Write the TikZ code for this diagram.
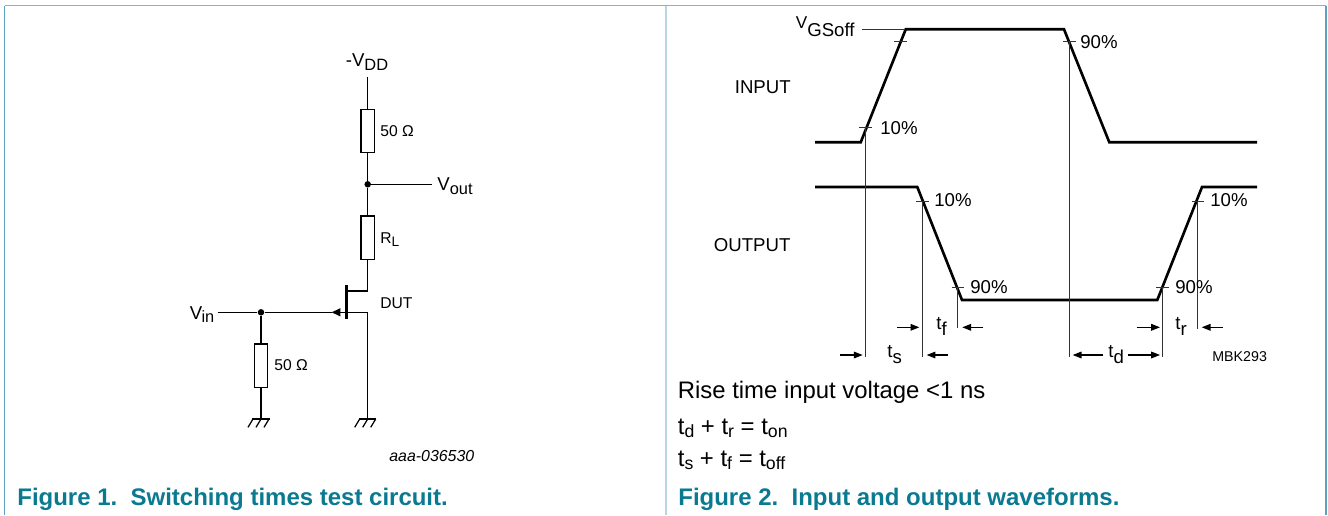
\documentclass[tikz,border=0pt]{standalone}
\usepackage{fontspec}
\setmainfont{Liberation Sans}
\usetikzlibrary{arrows.meta}
\definecolor{captionteal}{HTML}{0A7A90}
\definecolor{frameouter}{HTML}{5BA3BC}
\definecolor{frametop}{HTML}{7DB7CE}
\definecolor{framemid}{HTML}{B7D7E0}
\newcommand{\lowtxt}[1]{\raisebox{-1.9pt}{\scalebox{0.88}{#1}}}
\newcommand{\droptxt}[1]{\raisebox{-3.8pt}{#1}}
\newcommand{\subtxt}[1]{\raisebox{-1.8pt}{\scalebox{0.74}{#1}}}
\tikzset{
  wire/.style={black,line width=0.7pt},
  res/.style={draw=black,line width=0.7pt,fill=white,minimum width=0.272cm,minimum height=0.868cm},
  junct/.style={circle,fill=black,minimum size=0.13cm},
  gatebar/.style={fill=black,minimum width=0.05cm,minimum height=0.68cm},
  lbl/.style={anchor=base west,font=\fontsize{10.6}{12}\selectfont},
  smalllbl/.style={anchor=base west,font=\fontsize{8.9}{11}\selectfont},
  notelbl/.style={anchor=base west,font=\fontsize{13.6}{16}\selectfont},
  caption/.style={anchor=base west,text=captionteal,font=\fontsize{13.65}{16}\selectfont\bfseries},
  wave/.style={black,line width=1.5pt,line join=miter},
  thinln/.style={black!80,line width=0.6pt},
  dimln/.style={black,line width=0.6pt,-{Triangle[length=5pt,width=3.8pt]}},
  gatetip/.style={wire,-{Triangle[length=5pt,width=4.6pt]}},
  gndsym/.pic={
    \draw [wire] (-8.7,0) -- (8.7,0);
    \draw [wire] (-8,0) -- (-13,-8.3);
    \draw [wire] (0,0) -- (-5,-8.3);
    \draw [wire] (8,0) -- (3,-8.3);
  }
}
\begin{document}
\begin{tikzpicture}[x=0.02cm,y=0.02cm]
  \tikzstyle{every node}+=[inner sep=0pt]
  \useasboundingbox (0,0) rectangle (1328,-515);
  % frame
  \draw [frameouter,line width=0.8pt] (4.5,-515) -- (4.5,-5.7);
  \draw [frameouter,line width=0.8pt] (1326,-5.7) -- (1326,-515);
  \draw [frametop,line width=0.8pt] (4.5,-5.7) -- (1326,-5.7);
  \draw [framemid,line width=1.1pt] (666,-5.7) -- (666,-515);
  % circuit
  \coordinate (vddtop) at (367.7,-76.7);
  \node [res] (r1) at (367.7,-131) {};
  \node [junct] (joutnode) at (367.7,-184.3) {};
  \coordinate (voutend) at (432,-184.3);
  \node [res] (r2) at (367.7,-237.7) {};
  \coordinate (drain) at (367.7,-291);
  \coordinate (source) at (367.7,-312.3);
  \node [gatebar] (bar) at (346.3,-302) {};
  \coordinate (vinstart) at (217.7,-312.3);
  \node [junct] (jinnode) at (261,-312.3) {};
  \coordinate (tipend) at (331.7,-312.3);
  \node [res] (r3) at (261,-365.7) {};
  \coordinate (gnda) at (261,-419);
  \coordinate (gndb) at (367.7,-419);
  \draw [wire] (vddtop) -- (r1.north);
  \draw [wire] (r1.south) -- (joutnode);
  \draw [wire] (joutnode) -- (voutend);
  \draw [wire] (joutnode) -- (r2.north);
  \draw [wire] (r2.south) -- (drain) -- (drain -| bar.east);
  \draw [wire] (bar.east |- source) -- (source) -- (gndb);
  \draw [wire] (vinstart) -- (jinnode);
  \draw [gatetip] (bar.west |- tipend) -- (tipend);
  \draw [wire] (jinnode) -- (tipend);
  \draw [wire] (jinnode) -- (r3.north);
  \draw [wire] (r3.south) -- (gnda);
  \pic at (gnda) {gndsym};
  \pic at (gndb) {gndsym};
  \node [lbl] (vddlbl) at (345.5,-66.7) {-V\lowtxt{DD}};
  \node [smalllbl] (r1lbl) at (380,-136.7) {50 Ω};
  \node [lbl] (voutlbl) at (437,-190.7) {V\lowtxt{out}};
  \node [smalllbl] (r2lbl) at (380,-243) {R\lowtxt{L}};
  \node [smalllbl] (dutlbl) at (380,-308) {DUT};
  \node [lbl] (vinlbl) at (189.5,-319) {V\kern-0.4pt\lowtxt{in}};
  \node [smalllbl] (r3lbl) at (274,-370) {50 Ω};
  \node [anchor=base west,font=\fontsize{9.05}{11}\selectfont\itshape] (figid) at (389,-461.7) {aaa-036530};
  \node [caption] (capa) at (17,-505) {Figure 1.\ \ Switching times test circuit.};
  % input waveform
  \draw [wave] (815,-142.3) -- (860.7,-142.3) -- (905.7,-29.3) -- (1064,-29.3) -- (1109.3,-142.3) -- (1257,-142.3);
  % output waveform
  \draw [wave] (815,-187) -- (917.3,-187) -- (962,-300) -- (1157.3,-300) -- (1202,-187) -- (1257,-187);
  % ticks and guide lines
  \draw [thinln] (862,-29.3) -- (905,-29.3);
  \draw [thinln] (894,-41.7) -- (907,-41.7);
  \draw [thinln] (859,-127.7) -- (872,-127.7);
  \draw [thinln] (865.7,-127.7) -- (865.7,-356.7);
  \draw [thinln] (1063,-41.7) -- (1076,-41.7);
  \draw [thinln] (1069.3,-41.7) -- (1069.3,-356.7);
  \draw [thinln] (916,-201.3) -- (928.7,-201.3);
  \draw [thinln] (922.3,-201.3) -- (922.3,-356.7);
  \draw [thinln] (951.7,-287.3) -- (964,-287.3);
  \draw [thinln] (957.3,-287.3) -- (957.3,-328.3);
  \draw [thinln] (1156,-287.3) -- (1168.7,-287.3);
  \draw [thinln] (1162.3,-287.3) -- (1162.3,-356.7);
  \draw [thinln] (1191.7,-201.3) -- (1204,-201.3);
  \draw [thinln] (1197.3,-201.3) -- (1197.3,-329);
  % time arrows
  \draw [dimln] (897.3,-327.3) -- (919.3,-327.3);
  \draw [dimln] (983.3,-327.3) -- (962.3,-327.3);
  \draw [dimln] (1136.7,-327.3) -- (1160,-327.3);
  \draw [dimln] (1222.7,-327.3) -- (1201.7,-327.3);
  \draw [dimln] (840,-355) -- (862.7,-355);
  \draw [dimln] (947.7,-355) -- (926.7,-355);
  \draw [dimln] (1103,-355) -- (1072.7,-355);
  \draw [dimln] (1128.3,-355) -- (1160,-355);
  % labels
  \node [lbl] (vgslbl) at (795.5,-28.6) {\scalebox{0.92}{V}\raisebox{-4.4pt}{GSoff}};
  \node [lbl] (inlbl) at (734.5,-93.3) {INPUT};
  \node [lbl] (outlbl) at (713.5,-251) {OUTPUT};
  \node [lbl] (pcta) at (880,-134.3) {10\%};
  \node [lbl] (pctb) at (1080,-48.3) {90\%};
  \node [lbl] (pctc) at (934,-206.7) {10\%};
  \node [lbl] (pctd) at (970,-293.3) {90\%};
  \node [lbl] (pcte) at (1175,-293.3) {90\%};
  \node [lbl] (pctf) at (1210,-206.7) {10\%};
  \node [lbl] (tflbl) at (936,-329.3) {t\droptxt{f}};
  \node [lbl] (trlbl) at (1175,-329.3) {t\droptxt{r}};
  \node [lbl] (tslbl) at (887,-357.3) {t\droptxt{s}};
  \node [lbl] (tdlbl) at (1108,-357.3) {t\droptxt{d}};
  \node [anchor=base west,font=\fontsize{8.1}{10}\selectfont] (figidb) at (1212,-361.7) {MBK293};
  \node [notelbl] (notea) at (677.5,-398) {Rise time input voltage <1 ns};
  \node [notelbl] (noteb) at (677.5,-434) {t\subtxt{d} + t\subtxt{r} = t\subtxt{on}};
  \node [notelbl] (notec) at (677.5,-466.5) {t\subtxt{s} + t\subtxt{f} = t\subtxt{off}};
  \node [caption] (capb) at (678,-505) {Figure 2.\ \ Input and output waveforms.};
\end{tikzpicture}
\end{document}
